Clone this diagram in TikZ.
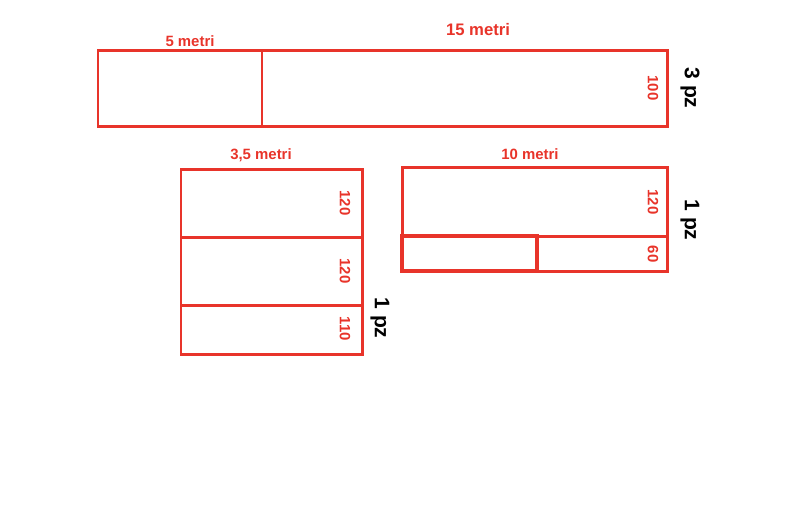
\documentclass[tikz,border=0pt]{standalone}
\usepackage{fontspec}
\setmainfont{Liberation Sans}
\definecolor{rosso}{RGB}{232,52,42}
\tikzset{
    pezzo/.style={draw=rosso, line width=1.7pt},
    misura/.style={text=rosso, font=\bfseries\fontsize{8.5}{10}\selectfont, inner sep=0pt},
    altezza/.style={misura, rotate=-90, font=\bfseries\fontsize{8.5}{10}\selectfont},
    quanti/.style={rotate=-90, font=\bfseries\fontsize{12}{14}\selectfont, inner sep=0pt}
}

\begin{document}
\begin{tikzpicture}[x=0.02cm, y=-0.02cm]
    \useasboundingbox (0,0) rectangle (800,515);
    % striscia lunga
    \draw[pezzo] (98,50) rectangle (262,126);
    \draw[pezzo] (262,50) rectangle (667,126);
    \node[misura] (cinque) at (190,41) {5 metri};
    \node[misura, font=\bfseries\fontsize{9.5}{11}\selectfont] (quindici) at (478,30) {15 metri};
    \node[altezza] (h100) at (653,88) {\textbf{100}};
    \node[quanti] (tre) at (690,88) {3 pz};
    % pezzo da 3,5
    \draw[pezzo] (181,169) rectangle (362,237);
    \draw[pezzo] (181,237) rectangle (362,305);
    \draw[pezzo] (181,305) rectangle (362,354);
    \node[misura] (trecinque) at (261,155) {3,5 metri};
    \node[altezza] (ha) at (345,203) {\textbf{120}};
    \node[altezza] (hb) at (345,271) {\textbf{120}};
    \node[altezza] (hc) at (345,329) {\textbf{110}};
    \node[quanti] (unoa) at (380,318) {1 pz};
    % pezzo da 10
    \draw[pezzo] (402,167) rectangle (667,236);
    \draw[pezzo] (537,236) rectangle (667,271);
    \draw[pezzo, line width=1.9pt] (402,236) rectangle (537,271);
    \node[misura] (dieci) at (530,154) {10 metri};
    \node[altezza] (hd) at (653,202) {\textbf{120}};
    \node[altezza] (he) at (653,254) {\textbf{60}};
    \node[quanti] (unob) at (690,220) {1 pz};
\end{tikzpicture}
\end{document}
